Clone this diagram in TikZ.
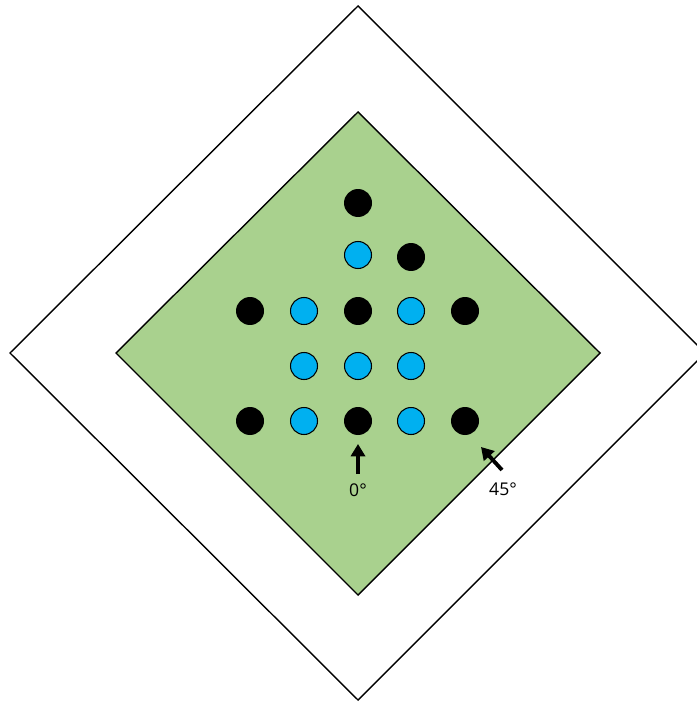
\documentclass[tikz,border=0pt]{standalone}
\usepackage{fontspec}
\setmainfont{Open Sans}
\usepackage{xcolor}
\usetikzlibrary{arrows.meta}
\definecolor{padgreen}{HTML}{A9D18E}
\definecolor{dotblue}{HTML}{00B0F0}
\tikzset{
  blackdot/.style={circle, fill=black, inner sep=0pt, minimum size=0.56cm},
  bluedot/.style={circle, fill=dotblue, draw=black, line width=0.6pt, inner sep=0pt, minimum size=0.54cm},
  anglearrow/.style={line width=2.2pt, -{Triangle[width=8pt,length=7pt]}},
  anglelabel/.style={font=\fontsize{10}{12}\selectfont, inner sep=1pt}
}
\begin{document}
\begin{tikzpicture}[x=0.02cm,y=-0.02cm]
\useasboundingbox (0,0) rectangle (696,702);
% outer square, turned
\draw[line width=0.8pt] (358,6) -- (705,353) -- (358,700) -- (10,353) -- cycle;
% green square
\draw[fill=padgreen, line width=0.8pt] (358,112) -- (600,353) -- (358,595) -- (116,353) -- cycle;
% dots
\node[blackdot] (b1) at (358,203) {};
\node[bluedot]  (c1) at (358,255) {};
\node[blackdot] (b2) at (411,257) {};
\node[blackdot] (b3) at (250,311) {};
\node[bluedot]  (c2) at (304,311) {};
\node[blackdot] (b4) at (358,311) {};
\node[bluedot]  (c3) at (411,311) {};
\node[blackdot] (b5) at (465,311) {};
\node[bluedot]  (c4) at (304,366) {};
\node[bluedot]  (c5) at (358,366) {};
\node[bluedot]  (c6) at (411,366) {};
\node[blackdot] (b6) at (250,421) {};
\node[bluedot]  (c7) at (304,421) {};
\node[blackdot] (b7) at (358,421) {};
\node[bluedot]  (c8) at (411,421) {};
\node[blackdot] (b8) at (465,421) {};
% angle arrows
\coordinate (a0s) at (358,474);
\coordinate (a0e) at (358,444);
\coordinate (a45s) at (502,470);
\coordinate (a45e) at (481,447);
\draw[anglearrow] (a0s) -- (a0e);
\draw[anglearrow] (a45s) -- (a45e);
\node[anglelabel] (l0) at (358,490) {0°};
\node[anglelabel] (l45) at (503,489) {45°};
\end{tikzpicture}
\end{document}
